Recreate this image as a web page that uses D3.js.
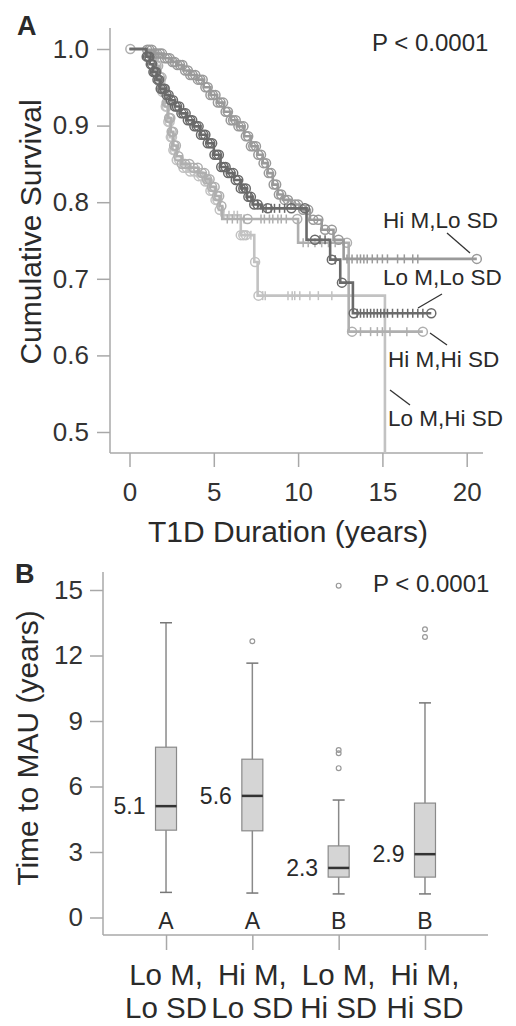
<!DOCTYPE html>
<html><head><meta charset="utf-8">
<script src="https://cdn.jsdelivr.net/npm/d3@7"></script>
<style>
body{margin:0;background:#fff}
svg{display:block}
text{font-family:"Liberation Sans",Arial,Helvetica,sans-serif;fill:#2a2a2a}
</style>
</head><body>
<svg id="c" width="516" height="1026"></svg>
<script>
// ---------- Panel A data (Kaplan-Meier) ----------
const kmGroups = ["Lo M,Hi SD", "Hi M,Hi SD", "Hi M,Lo SD", "Lo M,Lo SD"];
const kmTimes_LoMHiSD = [0, 1.0, 1.3, 1.5, 1.7, 1.9, 2.1, 2.25, 2.4, 2.55, 2.7, 3.0, 3.5, 4.0, 4.4, 4.7, 5.0, 5.3, 5.45, 6.6, 7.4, 7.6, 15.15];
const kmSurv_LoMHiSD  = [1.0, 0.995, 0.985, 0.972, 0.958, 0.944, 0.925, 0.905, 0.885, 0.868, 0.855, 0.845, 0.84, 0.834, 0.827, 0.815, 0.803, 0.79, 0.783, 0.757, 0.722, 0.678, 0.34];
const kmTimes_HiMHiSD = [0, 1.0, 1.3, 1.55, 1.75, 1.95, 2.15, 2.3, 2.45, 2.6, 2.8, 3.1, 3.6, 4.1, 4.5, 4.8, 5.1, 5.35, 5.5, 10.0, 13.0, 17.4];
const kmSurv_HiMHiSD  = [1.0, 0.997, 0.99, 0.978, 0.963, 0.948, 0.93, 0.91, 0.892, 0.874, 0.86, 0.85, 0.845, 0.838, 0.83, 0.82, 0.808, 0.795, 0.778, 0.747, 0.631, 0.631];
const kmTimes_HiMLoSD = [0, 1.0, 1.5, 2.0, 2.5, 2.8, 3.2, 3.6, 4.0, 4.4, 4.8, 5.2, 5.6, 6.0, 6.4, 6.8, 7.2, 7.6, 7.9, 8.2, 8.5, 8.8, 9.1, 9.6, 10.1, 10.7, 11.4, 12.1, 12.7, 20.6];
const kmSurv_HiMLoSD  = [1.0, 0.999, 0.994, 0.988, 0.983, 0.979, 0.972, 0.966, 0.96, 0.95, 0.94, 0.93, 0.918, 0.907, 0.899, 0.886, 0.873, 0.862, 0.851, 0.838, 0.823, 0.81, 0.803, 0.797, 0.79, 0.777, 0.764, 0.751, 0.726, 0.726];
const kmTimes_LoMLoSD = [0, 1.0, 1.2, 1.4, 1.6, 1.8, 2.1, 2.4, 2.7, 3.0, 3.4, 3.8, 4.2, 4.6, 5.0, 5.4, 5.8, 6.2, 6.6, 6.95, 7.3, 7.8, 10.5, 11.9, 12.5, 13.25, 17.9];
const kmSurv_LoMLoSD  = [1.0, 0.99, 0.98, 0.97, 0.96, 0.948, 0.94, 0.933, 0.925, 0.916, 0.907, 0.899, 0.888, 0.877, 0.862, 0.846, 0.838, 0.829, 0.818, 0.807, 0.797, 0.792, 0.751, 0.725, 0.695, 0.655, 0.655];

const censorCircles_LoMHiSD = [1.35, 1.45, 1.55, 1.62, 1.75, 1.84, 1.95, 2.05, 2.15, 2.22, 2.3, 2.38, 2.45, 2.52, 2.6, 2.68, 2.8, 2.95, 3.2, 3.4, 3.6, 3.85, 4.1, 4.3, 4.5, 4.65, 4.8, 4.95, 5.1, 5.22, 5.35, 6.6, 6.75, 6.9, 7.45, 7.65, 15.15];
const censorTicks_LoMHiSD   = [5.6, 5.9, 6.2, 6.4, 7.0, 7.2, 7.9, 8.05, 9.4, 9.65, 9.8, 10.1, 10.7, 11.2, 12.0];
const censorCircles_HiMHiSD = [0.05, 1.35, 1.48, 1.6, 1.7, 1.8, 1.9, 2.0, 2.1, 2.2, 2.28, 2.35, 2.42, 2.5, 2.58, 2.65, 2.75, 2.9, 3.1, 3.3, 3.55, 3.8, 4.05, 4.3, 4.45, 4.6, 4.75, 4.9, 5.05, 5.2, 5.32, 5.45, 7.0, 9.95, 12.9, 13.2, 17.4];
const censorTicks_HiMHiSD   = [5.8, 6.1, 6.4, 6.8, 7.8, 8.0, 8.3, 8.5, 8.8, 9.0, 9.3, 10.3, 10.6, 11.0, 11.4, 11.8, 12.2, 13.7, 14.3, 14.7, 15.0, 15.45, 16.45];
const censorCircles_HiMLoSD = [1.05, 1.18, 1.32, 1.5, 1.64, 1.8, 1.93, 2.1, 2.24, 2.38, 2.55, 2.68, 2.84, 3.0, 3.14, 3.3, 3.46, 3.6, 3.74, 3.9, 4.06, 4.2, 4.34, 4.5, 4.64, 4.8, 4.94, 5.1, 5.24, 5.4, 5.55, 5.7, 5.84, 6.0, 6.14, 6.3, 6.46, 6.6, 6.76, 6.9, 7.04, 7.2, 7.34, 7.5, 7.64, 7.8, 7.95, 8.1, 8.26, 8.4, 8.55, 8.7, 8.86, 9.0, 9.2, 9.4, 9.6, 9.82, 10.0, 10.3, 10.6, 10.9, 11.2, 11.6, 12.0, 12.4, 20.6];
const censorTicks_HiMLoSD   = [12.9, 13.2, 13.5, 13.7, 13.9, 14.1, 14.4, 14.7, 15.0, 15.3, 15.9, 16.3, 16.8, 17.1];
const censorCircles_LoMLoSD = [1.02, 1.1, 1.18, 1.26, 1.34, 1.42, 1.5, 1.58, 1.66, 1.75, 1.85, 1.95, 2.08, 2.2, 2.32, 2.45, 2.58, 2.7, 2.82, 2.95, 3.08, 3.2, 3.33, 3.46, 3.6, 3.72, 3.85, 3.98, 4.1, 4.24, 4.38, 4.5, 4.64, 4.78, 4.9, 5.04, 5.18, 5.3, 5.44, 5.58, 5.7, 5.85, 6.0, 6.15, 6.3, 6.45, 6.6, 6.75, 6.9, 7.05, 7.2, 7.4, 7.6, 8.2, 9.6, 10.4, 11.0, 12.0, 12.6, 13.3, 17.9];
const censorTicks_LoMLoSD   = [6.7, 7.0, 7.2, 7.6, 7.9, 8.1, 8.4, 8.6, 8.9, 9.2, 11.3, 11.6, 12.2, 13.5, 13.7, 13.9, 14.1, 14.3, 14.5, 14.7, 14.9, 15.1, 15.3, 15.6, 15.9, 16.2, 16.5, 16.8, 17.1, 17.4];

const kmXTicks = [0, 5, 10, 15, 20];
const kmYTicks = [0.5, 0.6, 0.7, 0.8, 0.9, 1.0];

// ---------- Panel B data (box plots) ----------
const bCategories = ["Lo M, Lo SD", "Hi M, Lo SD", "Lo M, Hi SD", "Hi M, Hi SD"];
const bCatLine1 = ["Lo M,", "Hi M,", "Lo M,", "Hi M,"];
const bCatLine2 = ["Lo SD", "Lo SD", "Hi SD", "Hi SD"];
const boxWhiskerLo = [1.15, 1.12, 1.08, 1.08];
const boxQ1        = [4.0, 3.97, 1.85, 1.85];
const boxMedian    = [5.1, 5.57, 2.27, 2.9];
const boxQ3        = [7.8, 7.25, 3.28, 5.24];
const boxWhiskerHi = [13.5, 11.65, 5.38, 9.83];
const boxOutliers  = [[], [12.65], [6.84, 7.52, 7.67, 15.2], [12.85, 13.2]];
const medianLabels = ["5.1", "5.6", "2.3", "2.9"];
const groupLetters = ["A", "A", "B", "B"];
const bYTicks = [0, 3, 6, 9, 12, 15];

// ---------- drawing ----------
const svg = d3.select("#c");
const axisCol = "#a8a8a8";

// Panel A
const xA = d3.scaleLinear().domain([0, 20]).range([129.5, 466.7]);
const yA = d3.scaleLinear().domain([0.5, 1.0]).range([432, 49]);

svg.append("text").attr("x", 17).attr("y", 35).attr("font-size", 27).attr("font-weight", "bold").text("A");
svg.append("text").attr("x", 372).attr("y", 51).attr("font-size", 24).text("P < 0.0001");

const gAy = svg.append("g").attr("transform", "translate(110,0)")
  .call(d3.axisLeft(yA).tickValues(kmYTicks).tickFormat(d3.format(".1f")).tickSize(13).tickPadding(8));
const gAx = svg.append("g").attr("transform", "translate(0,453)")
  .call(d3.axisBottom(xA).tickValues(kmXTicks).tickSize(14).tickPadding(16));
[gAy, gAx].forEach(g => {
  g.select(".domain").remove();
  g.selectAll(".tick line").attr("stroke", axisCol).attr("stroke-width", 1.5);
  g.selectAll(".tick text").attr("font-size", 26).style("fill", "#333");
});
svg.append("line").attr("x1", 110).attr("x2", 110).attr("y1", 28).attr("y2", 453).attr("stroke", axisCol).attr("stroke-width", 1.5);
svg.append("line").attr("x1", 110).attr("x2", 483).attr("y1", 453).attr("y2", 453).attr("stroke", axisCol).attr("stroke-width", 1.5);

svg.append("text").attr("transform", "translate(41,232) rotate(-90)").attr("text-anchor", "middle").attr("font-size", 30).text("Cumulative Survival");
svg.append("text").attr("x", 288).attr("y", 542).attr("text-anchor", "middle").attr("font-size", 30).text("T1D Duration (years)");

svg.append("defs").append("clipPath").attr("id", "clipA")
  .append("rect").attr("x", 110).attr("y", 20).attr("width", 400).attr("height", 433);

const kmSeries = [
  {name: "Lo M,Hi SD", t: kmTimes_LoMHiSD, s: kmSurv_LoMHiSD, circ: censorCircles_LoMHiSD, tick: censorTicks_LoMHiSD, col: "#c2c2c2"},
  {name: "Hi M,Hi SD", t: kmTimes_HiMHiSD, s: kmSurv_HiMHiSD, circ: censorCircles_HiMHiSD, tick: censorTicks_HiMHiSD, col: "#afafaf"},
  {name: "Hi M,Lo SD", t: kmTimes_HiMLoSD, s: kmSurv_HiMLoSD, circ: censorCircles_HiMLoSD, tick: censorTicks_HiMLoSD, col: "#9a9a9a"},
  {name: "Lo M,Lo SD", t: kmTimes_LoMLoSD, s: kmSurv_LoMLoSD, circ: censorCircles_LoMLoSD, tick: censorTicks_LoMLoSD, col: "#6a6a6a"}
];
function survAt(ser, tt) {
  let v = ser.s[0];
  for (let i = 0; i < ser.t.length; i++) { if (ser.t[i] <= tt) v = ser.s[i]; }
  return v;
}
const stepLine = d3.line().x(d => xA(d[0])).y(d => yA(d[1])).curve(d3.curveStepAfter);
const plot = svg.append("g").attr("clip-path", "url(#clipA)");
kmSeries.forEach(ser => {
  const g = plot.append("g");
  g.append("path").attr("d", stepLine(ser.t.map((t, i) => [t, ser.s[i]])))
    .attr("fill", "none").attr("stroke", ser.col).attr("stroke-width", 2.6);
  g.selectAll("circle").data(ser.circ).enter().append("circle")
    .attr("cx", d => xA(d)).attr("cy", d => yA(survAt(ser, d))).attr("r", 4.5)
    .attr("fill", "none").attr("stroke", ser.col).attr("stroke-width", 1.5);
  g.selectAll("line.tk").data(ser.tick).enter().append("line").attr("class", "tk")
    .attr("x1", d => xA(d)).attr("x2", d => xA(d))
    .attr("y1", d => yA(survAt(ser, d)) - 4.5).attr("y2", d => yA(survAt(ser, d)) + 4.5)
    .attr("stroke", ser.col).attr("stroke-width", 1.5);
});

// labels with leaders
const kmLabelInfo = [
  {txt: "Hi M,Lo SD", x: 383, y: 228, l: [447, 233, 470, 253]},
  {txt: "Lo M,Lo SD", x: 383, y: 285, l: [442, 294, 418, 308]},
  {txt: "Hi M,Hi SD", x: 388, y: 367, l: [430, 333, 447, 345]},
  {txt: "Lo M,Hi SD", x: 388, y: 426, l: [390, 390, 410, 405]}
];
kmLabelInfo.forEach(d => {
  svg.append("text").attr("x", d.x).attr("y", d.y).attr("font-size", 22.5).text(d.txt);
  svg.append("line").attr("x1", d.l[0]).attr("y1", d.l[1]).attr("x2", d.l[2]).attr("y2", d.l[3])
    .attr("stroke", "#333").attr("stroke-width", 1.3);
});

// Panel B
const xB = d3.scalePoint().domain(bCategories).range([103, 488]).padding(0.73);
const yB = d3.scaleLinear().domain([0, 15]).range([917.5, 590]);

svg.append("text").attr("x", 15).attr("y", 583).attr("font-size", 27).attr("font-weight", "bold").text("B");
svg.append("text").attr("x", 373).attr("y", 592).attr("font-size", 24).text("P < 0.0001");

const gBy = svg.append("g").attr("transform", "translate(103,0)")
  .call(d3.axisLeft(yB).tickValues(bYTicks).tickSize(13).tickPadding(7));
const gBx = svg.append("g").attr("transform", "translate(0,935)")
  .call(d3.axisBottom(xB).tickSize(15).tickFormat(""));
[gBy, gBx].forEach(g => {
  g.select(".domain").remove();
  g.selectAll(".tick line").attr("stroke", axisCol).attr("stroke-width", 1.5);
  g.selectAll(".tick text").attr("font-size", 26).style("fill", "#333");
});
svg.append("line").attr("x1", 103).attr("x2", 103).attr("y1", 572).attr("y2", 935).attr("stroke", axisCol).attr("stroke-width", 1.5);
svg.append("line").attr("x1", 103).attr("x2", 488).attr("y1", 935).attr("y2", 935).attr("stroke", axisCol).attr("stroke-width", 1.5);

svg.append("text").attr("transform", "translate(38,748) rotate(-90)").attr("text-anchor", "middle").attr("font-size", 30).text("Time to MAU (years)");

const bw = 21;
bCategories.forEach((c, i) => {
  const cx = xB(c);
  const g = svg.append("g");
  g.append("line").attr("x1", cx).attr("x2", cx).attr("y1", yB(boxWhiskerLo[i])).attr("y2", yB(boxWhiskerHi[i])).attr("stroke", "#8a8a8a").attr("stroke-width", 1.5);
  [boxWhiskerLo[i], boxWhiskerHi[i]].forEach(v => {
    g.append("line").attr("x1", cx - 6).attr("x2", cx + 6).attr("y1", yB(v)).attr("y2", yB(v)).attr("stroke", "#777").attr("stroke-width", 1.5);
  });
  g.append("rect").attr("x", cx - bw / 2).attr("width", bw).attr("y", yB(boxQ3[i])).attr("height", yB(boxQ1[i]) - yB(boxQ3[i]))
    .attr("fill", "#d5d5d5").attr("stroke", "#8a8a8a").attr("stroke-width", 1.2);
  g.append("line").attr("x1", cx - bw / 2).attr("x2", cx + bw / 2).attr("y1", yB(boxMedian[i])).attr("y2", yB(boxMedian[i])).attr("stroke", "#333").attr("stroke-width", 2.5);
  g.selectAll("circle").data(boxOutliers[i]).enter().append("circle")
    .attr("cx", cx).attr("cy", d => yB(d)).attr("r", 2.4).attr("fill", "none").attr("stroke", "#999").attr("stroke-width", 1.2);
  g.append("text").attr("x", cx - bw / 2 - 10).attr("y", yB(boxMedian[i])).attr("dy", "0.36em").attr("text-anchor", "end").attr("font-size", 23).text(medianLabels[i]);
  g.append("text").attr("x", cx).attr("y", 929).attr("text-anchor", "middle").attr("font-size", 23).text(groupLetters[i]);
  g.append("text").attr("x", cx).attr("y", 985).attr("text-anchor", "middle").attr("font-size", 29.5).text(bCatLine1[i]);
  g.append("text").attr("x", cx).attr("y", 1018).attr("text-anchor", "middle").attr("font-size", 29.5).text(bCatLine2[i]);
});
</script>
</body></html>
